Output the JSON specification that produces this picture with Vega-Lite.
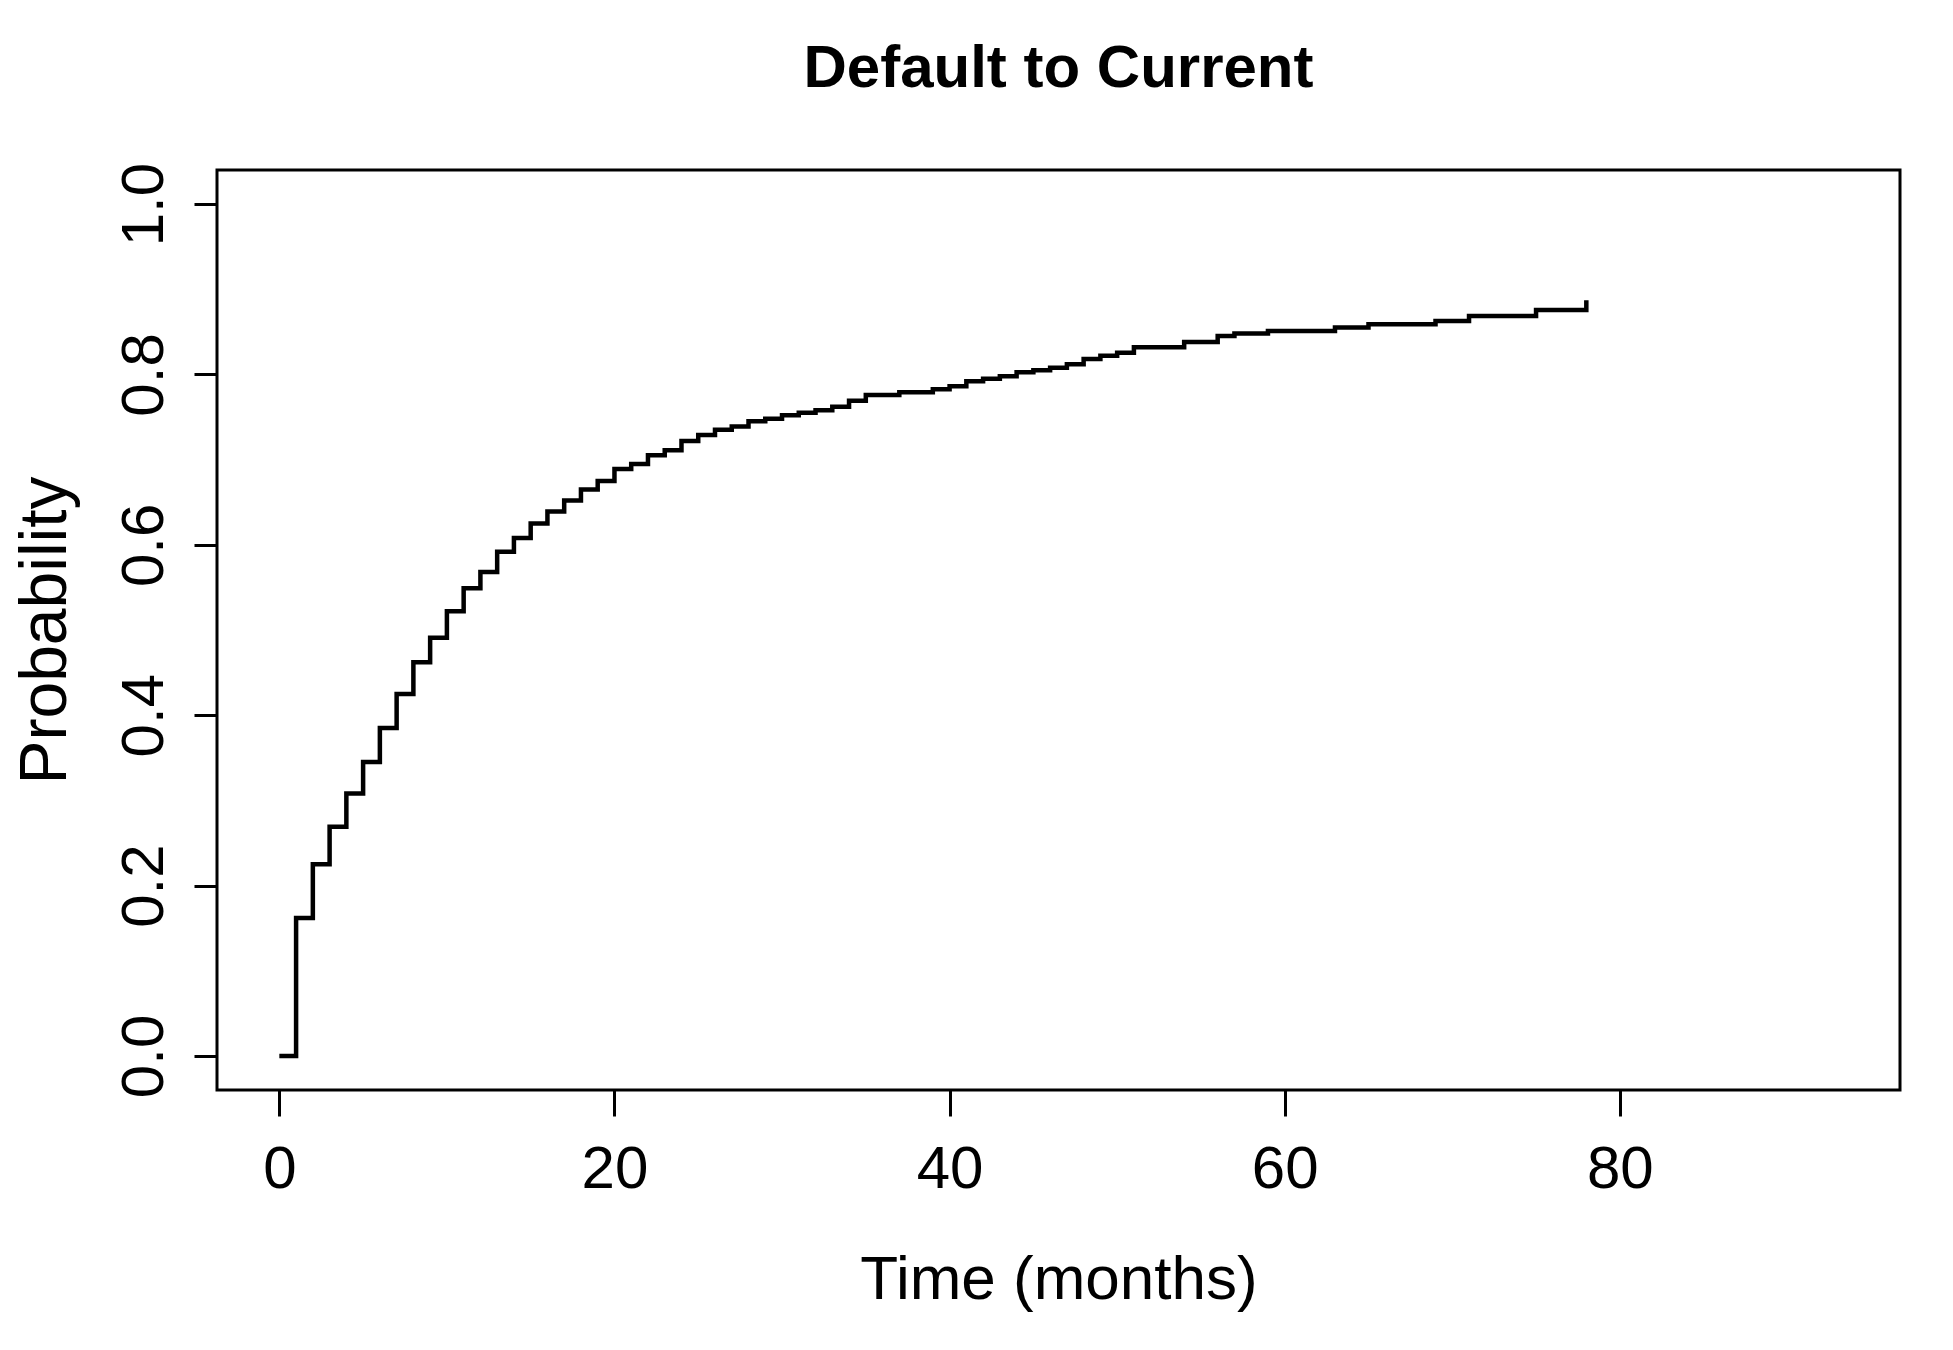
{
  "$schema": "https://vega.github.io/schema/vega-lite/v6.json",
  "width": 1683,
  "height": 920,
  "autosize": "none",
  "padding": {"left": 217, "top": 170, "right": 53, "bottom": 260},
  "background": "white",
  "title": {
    "text": "Default to Current",
    "font": "Liberation Sans",
    "fontSize": 60,
    "fontWeight": "bold",
    "color": "black",
    "anchor": "middle",
    "frame": "group",
    "baseline": "alphabetic",
    "offset": 15
  },
  "config": {
    "view": {"stroke": "black", "strokeWidth": 3},
    "axis": {
      "labelFont": "Liberation Sans",
      "titleFont": "Liberation Sans",
      "labelColor": "black",
      "titleColor": "black",
      "labelFontSize": 60,
      "titleFontSize": 60,
      "titleFontWeight": "normal",
      "tickColor": "black",
      "tickWidth": 3,
      "domain": false,
      "grid": false
    }
  },
  "data": {
    "values": [
      {"t": 0, "p": 0.0},
      {"t": 1, "p": 0.162},
      {"t": 2, "p": 0.225},
      {"t": 3, "p": 0.269},
      {"t": 4, "p": 0.308},
      {"t": 5, "p": 0.345},
      {"t": 6, "p": 0.385},
      {"t": 7, "p": 0.425},
      {"t": 8, "p": 0.462},
      {"t": 9, "p": 0.491},
      {"t": 10, "p": 0.522},
      {"t": 11, "p": 0.549},
      {"t": 12, "p": 0.568},
      {"t": 13, "p": 0.592},
      {"t": 14, "p": 0.608},
      {"t": 15, "p": 0.625},
      {"t": 16, "p": 0.639},
      {"t": 17, "p": 0.652},
      {"t": 18, "p": 0.665},
      {"t": 19, "p": 0.675},
      {"t": 20, "p": 0.689},
      {"t": 21, "p": 0.695},
      {"t": 22, "p": 0.705},
      {"t": 23, "p": 0.711},
      {"t": 24, "p": 0.722},
      {"t": 25, "p": 0.729},
      {"t": 26, "p": 0.735},
      {"t": 27, "p": 0.739},
      {"t": 28, "p": 0.745},
      {"t": 29, "p": 0.748},
      {"t": 30, "p": 0.752},
      {"t": 31, "p": 0.755},
      {"t": 32, "p": 0.758},
      {"t": 33, "p": 0.762},
      {"t": 34, "p": 0.769},
      {"t": 35, "p": 0.776},
      {"t": 37, "p": 0.779},
      {"t": 39, "p": 0.7825},
      {"t": 40, "p": 0.786},
      {"t": 41, "p": 0.792},
      {"t": 42, "p": 0.795},
      {"t": 43, "p": 0.798},
      {"t": 44, "p": 0.8025},
      {"t": 45, "p": 0.805},
      {"t": 46, "p": 0.808},
      {"t": 47, "p": 0.812},
      {"t": 48, "p": 0.818},
      {"t": 49, "p": 0.822},
      {"t": 50, "p": 0.8255},
      {"t": 51, "p": 0.832},
      {"t": 54, "p": 0.838},
      {"t": 56, "p": 0.845},
      {"t": 57, "p": 0.848},
      {"t": 59, "p": 0.851},
      {"t": 63, "p": 0.855},
      {"t": 65, "p": 0.859},
      {"t": 69, "p": 0.8627},
      {"t": 71, "p": 0.8685},
      {"t": 75, "p": 0.8756},
      {"t": 78, "p": 0.887}
    ]
  },
  "mark": {"type": "line", "interpolate": "step-after", "color": "black", "strokeWidth": 4.5, "strokeCap": "butt", "clip": true},
  "encoding": {
    "x": {
      "field": "t",
      "type": "quantitative",
      "scale": {"domain": [-3.72, 96.72], "nice": false, "zero": false},
      "axis": {
        "title": "Time (months)",
        "values": [0, 20, 40, 60, 80],
        "format": "d",
        "tickSize": 26,
        "labelPadding": 71,
        "labelBaseline": "alphabetic",
        "titleBaseline": "alphabetic",
        "titlePadding": 99,
        "titleFontSize": 62
      }
    },
    "y": {
      "field": "p",
      "type": "quantitative",
      "scale": {"domain": [-0.04, 1.04], "nice": false, "zero": false},
      "axis": {
        "title": "Probability",
        "values": [0, 0.2, 0.4, 0.6, 0.8, 1.0],
        "format": ".1f",
        "tickSize": 23,
        "labelAngle": -90,
        "labelAlign": "center",
        "labelBaseline": "alphabetic",
        "labelPadding": 32,
        "titleFontSize": 66,
        "titlePadding": 35
      }
    }
  }
}
